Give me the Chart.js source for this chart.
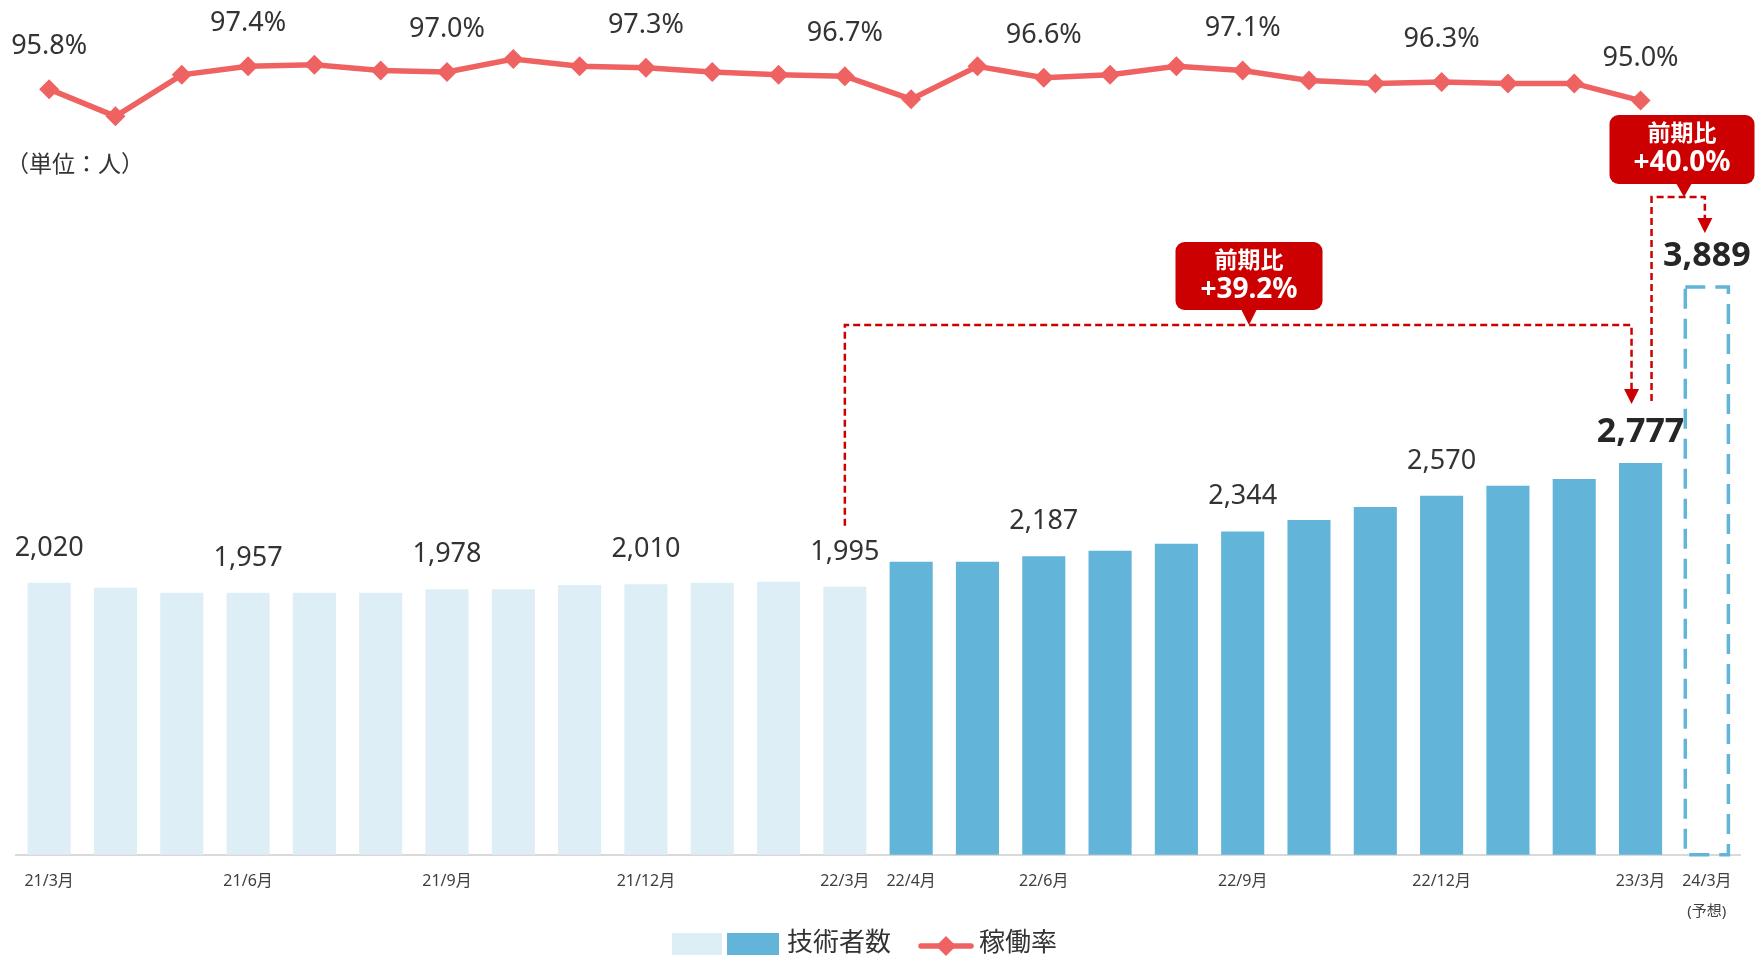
<!DOCTYPE html>
<html lang="ja">
<head>
<meta charset="utf-8">
<title>技術者数と稼働率の推移</title>
<script src="https://cdn.jsdelivr.net/npm/chart.js@4.4.1/dist/chart.umd.min.js"></script>
<style>
  html, body { margin: 0; padding: 0; background: #fff; }
  #wrap { width: 1755px; height: 957px; }
</style>
</head>
<body>
<div id="wrap"><canvas id="chart" width="1755" height="957"></canvas></div>
<script>
const FONT = '"Noto Sans", "Noto Sans CJK JP", sans-serif';

// 月末時点
const categories = [
  '21/3月', '21/4月', '21/5月', '21/6月', '21/7月', '21/8月', '21/9月', '21/10月', '21/11月', '21/12月',
  '22/1月', '22/2月', '22/3月', '22/4月', '22/5月', '22/6月', '22/7月', '22/8月', '22/9月', '22/10月',
  '22/11月', '22/12月', '23/1月', '23/2月', '23/3月', '24/3月'
];
// 技術者数（人）, last one = 24/3 forecast
const engineers = [
  2020, 1988, 1957, 1957, 1957, 1957, 1978, 1978, 2006, 2010, 2020, 2026, 1995,
  2152, 2152, 2187, 2222, 2266, 2344, 2417, 2499, 2570, 2632, 2676, 2777, 3889
];
// 稼働率（%）
const utilization = [
  95.8, 93.9, 96.8, 97.4, 97.5, 97.1, 97.0, 97.9, 97.4, 97.3, 97.0, 96.8, 96.7,
  95.1, 97.4, 96.6, 96.8, 97.4, 97.1, 96.4, 96.2, 96.3, 96.2, 96.2, 95.0
];
const shownTicks = ['21/3月', '21/6月', '21/9月', '21/12月', '22/3月', '22/4月', '22/6月', '22/9月', '22/12月', '23/3月', '24/3月'];
const barLabelIdx = [0, 3, 6, 9, 12, 15, 18, 21];
const boldLabelIdx = [24, 25];
const rateLabelIdx = [0, 3, 6, 9, 12, 15, 18, 21, 24];
const prevFyIdx = 12;   // 22/3
const curFyIdx = 24;    // 23/3
const forecastIdx = 25; // 24/3

const LIGHT = '#DDEEF6';
const DARK = '#62B5D9';
const LINE = '#EF6262';
const RED = '#CC0000';

const barColors = engineers.map((v, i) => i < 13 ? LIGHT : (i === forecastIdx ? 'rgba(0,0,0,0)' : DARK));

function growth(a, b) {
  return '+' + ((b / a - 1) * 100).toFixed(1) + '%';
}

function dashed(ctx, pts) {
  ctx.save();
  ctx.strokeStyle = RED;
  ctx.lineWidth = 2.5;
  ctx.setLineDash([7, 4]);
  ctx.beginPath();
  ctx.moveTo(pts[0][0], pts[0][1]);
  for (let i = 1; i < pts.length; i++) ctx.lineTo(pts[i][0], pts[i][1]);
  ctx.stroke();
  ctx.restore();
}

function arrowDown(ctx, x, tip) {
  ctx.save();
  ctx.fillStyle = RED;
  ctx.beginPath();
  ctx.moveTo(x - 7.5, tip - 15);
  ctx.lineTo(x + 7.5, tip - 15);
  ctx.lineTo(x, tip);
  ctx.closePath();
  ctx.fill();
  ctx.restore();
}

function callout(ctx, cx, top, w, h, tipX, tipY, pct) {
  ctx.save();
  ctx.fillStyle = RED;
  ctx.beginPath();
  ctx.roundRect(cx - w / 2, top, w, h, 9);
  ctx.fill();
  ctx.beginPath();
  ctx.moveTo(tipX - 8, top + h - 1);
  ctx.lineTo(tipX + 8, top + h - 1);
  ctx.lineTo(tipX, tipY);
  ctx.closePath();
  ctx.fill();
  ctx.fillStyle = '#fff';
  ctx.textAlign = 'center';
  ctx.textBaseline = 'middle';
  ctx.font = 'bold 23px ' + FONT;
  ctx.fillText('前期比', cx, top + 19);
  ctx.font = 'bold 28px ' + FONT;
  ctx.fillText(pct, cx, top + 48);
  ctx.restore();
}

const annotations = {
  id: 'annotations',
  afterDatasetsDraw(chart) {
    const ctx = chart.ctx;
    const area = chart.chartArea;
    const bars = chart.getDatasetMeta(0).data;
    const pts = chart.getDatasetMeta(1).data;

    // forecast bar: dashed outline
    const f = bars[forecastIdx];
    const bottom = Math.min(f.base, area.bottom);
    ctx.save();
    ctx.strokeStyle = DARK;
    ctx.lineWidth = 3.5;
    ctx.setLineDash([20, 10]);
    ctx.strokeRect(f.x - f.width / 2, f.y, f.width, bottom - f.y);
    ctx.restore();

    // bar value labels
    ctx.save();
    ctx.textAlign = 'center';
    ctx.textBaseline = 'alphabetic';
    ctx.fillStyle = '#333';
    ctx.font = '27px ' + FONT;
    barLabelIdx.forEach(i => {
      ctx.fillText(engineers[i].toLocaleString('en-US'), bars[i].x, bars[i].y - 27);
    });
    ctx.fillStyle = '#262626';
    ctx.font = 'bold 34px ' + FONT;
    boldLabelIdx.forEach(i => {
      ctx.fillText(engineers[i].toLocaleString('en-US'), bars[i].x, bars[i].y - 21);
    });

    // utilization labels
    ctx.fillStyle = '#333';
    ctx.font = '27px ' + FONT;
    rateLabelIdx.forEach(i => {
      ctx.fillText(utilization[i].toFixed(1) + '%', pts[i].x, pts[i].y - 35);
    });

    // unit
    ctx.textAlign = 'left';
    ctx.textBaseline = 'middle';
    ctx.font = '23px ' + FONT;
    ctx.fillText('（単位：人）', 6, 165);

    // (予想) under the last tick
    ctx.textAlign = 'center';
    ctx.fillStyle = '#404040';
    ctx.font = '15px ' + FONT;
    ctx.fillText('(予想)', f.x, 912);
    ctx.restore();

    // 22/3 -> 23/3
    const a = bars[prevFyIdx], b = bars[curFyIdx];
    dashed(ctx, [[a.x, a.y - 61], [a.x, 325], [b.x - 9, 325], [b.x - 9, 392]]);
    arrowDown(ctx, b.x - 9, 404);
    callout(ctx, 1249, 242, 147, 68, 1249, 325, growth(engineers[prevFyIdx], engineers[curFyIdx]));

    // 23/3 -> 24/3
    dashed(ctx, [[b.x + 11, b.y - 62], [b.x + 11, 197], [f.x - 2, 197], [f.x - 2, 220]]);
    arrowDown(ctx, f.x - 2, 233);
    callout(ctx, 1682, 115, 145, 69, 1684, 197, growth(engineers[curFyIdx], engineers[forecastIdx]));

    // legend
    ctx.save();
    ctx.fillStyle = LIGHT;
    ctx.fillRect(672, 933, 50, 22);
    ctx.fillStyle = DARK;
    ctx.fillRect(727, 933, 52, 22);
    ctx.fillStyle = '#333';
    ctx.font = '26px ' + FONT;
    ctx.textAlign = 'left';
    ctx.textBaseline = 'middle';
    ctx.fillText('技術者数', 787, 944);
    ctx.strokeStyle = LINE;
    ctx.lineWidth = 5.5;
    ctx.lineCap = 'round';
    ctx.beginPath();
    ctx.moveTo(921, 946);
    ctx.lineTo(971, 946);
    ctx.stroke();
    ctx.fillStyle = LINE;
    ctx.beginPath();
    ctx.moveTo(936, 946); ctx.lineTo(946, 936); ctx.lineTo(956, 946); ctx.lineTo(946, 956);
    ctx.closePath();
    ctx.fill();
    ctx.fillStyle = '#333';
    ctx.fillText('稼働率', 979, 944);
    ctx.restore();
  }
};

new Chart(document.getElementById('chart'), {
  type: 'bar',
  data: {
    labels: categories,
    datasets: [
      {
        label: '技術者数',
        data: engineers,
        backgroundColor: barColors,
        barPercentage: 0.65,
        categoryPercentage: 1.0,
        yAxisID: 'y',
        order: 1
      },
      {
        type: 'line',
        label: '稼働率',
        data: utilization,
        borderColor: LINE,
        backgroundColor: LINE,
        borderWidth: 5.5,
        pointStyle: 'rectRot',
        pointRadius: 10,
        pointBorderWidth: 0,
        pointBackgroundColor: LINE,
        tension: 0,
        yAxisID: 'y2',
        clip: false,
        order: 0
      }
    ]
  },
  options: {
    responsive: false,
    animation: false,
    events: [],
    layout: { padding: { left: 16, right: 15, top: 10, bottom: 49 } },
    plugins: {
      legend: { display: false },
      tooltip: { enabled: false }
    },
    scales: {
      x: {
        grid: { display: false, drawTicks: false },
        border: { display: true, color: '#D9D9D9', width: 2 },
        ticks: {
          autoSkip: false,
          maxRotation: 0,
          padding: 17,
          color: '#404040',
          font: { size: 16, family: FONT },
          callback(value) {
            const l = categories[value];
            return shownTicks.includes(l) ? l : '';
          }
        }
      },
      y: { display: false, min: 300, max: 5640 },
      y2: { display: false, min: 42.31, max: 101.33 }
    }
  },
  plugins: [annotations]
});
</script>
</body>
</html>
